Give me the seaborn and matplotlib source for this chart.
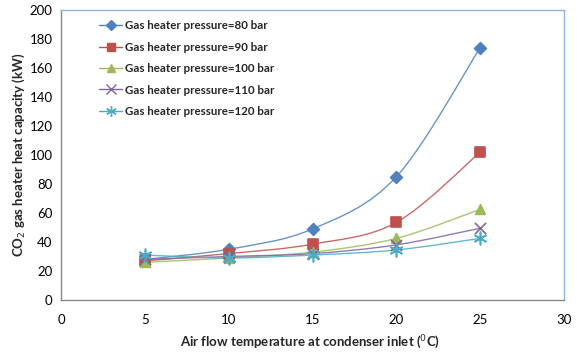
import matplotlib
matplotlib.use("Agg")
import matplotlib.pyplot as plt
import seaborn as sns
import numpy as np
import pandas as pd
from matplotlib.path import Path
from matplotlib.patches import PathPatch
from matplotlib.lines import Line2D

temps = [5, 10, 15, 20, 25]
p80 = [28, 35, 49, 85, 174]
p90 = [27, 32, 38.5, 53.5, 102]
p100 = [26, 29, 33, 42.5, 62.5]
p110 = [28, 30, 32, 38, 49.5]
p120 = [31, 29, 31, 34.5, 42.5]
labels = ["Gas heater pressure=80 bar", "Gas heater pressure=90 bar",
          "Gas heater pressure=100 bar", "Gas heater pressure=110 bar",
          "Gas heater pressure=120 bar"]

colors = ["#4F81BD", "#C0504D", "#9BBB59", "#8064A2", "#4BACC6"]
markers = ["D", "s", "^", "x", (6, 2, 0)]
msizes = [6, 7, 7, 8, 9]


def smooth_path(xs, ys):
    # Excel-style smoothed line: cubic Bezier through the points
    pts = np.column_stack([xs, ys]).astype(float)
    n = len(pts)
    verts = [pts[0]]
    codes = [Path.MOVETO]
    for i in range(n - 1):
        p0 = pts[i - 1] if i > 0 else pts[i]
        p1 = pts[i]
        p2 = pts[i + 1]
        p3 = pts[i + 2] if i + 2 < n else pts[i + 1]
        verts += [p1 + (p2 - p0) / 6, p2 - (p3 - p1) / 6, p2]
        codes += [Path.CURVE4] * 3
    return Path(verts, codes)


sns.set_style("white")
plt.rcParams["font.family"] = ["Lato", "DejaVu Sans"]

fig = plt.figure(figsize=(5.79, 3.52), dpi=100)
ax = fig.add_axes([61 / 579, 52 / 352, 503 / 579, 290 / 352])

series = [p80, p90, p100, p110, p120]
handles = []
for vals, lab, c, m, ms in zip(series, labels, colors, markers, msizes):
    ax.add_patch(PathPatch(smooth_path(temps, vals), fill=False,
                           edgecolor=c, lw=1.0, alpha=0.85, zorder=2))
    df = pd.DataFrame({"t": temps, "v": vals})
    sns.scatterplot(data=df, x="t", y="v", ax=ax, marker=m, s=ms ** 2,
                    color=c, edgecolor=c if m not in ("x",) else None,
                    linewidth=1.2, zorder=3, legend=False)
    handles.append(Line2D([], [], color=c, marker=m, markersize=ms * 0.85,
                          lw=1.0, markeredgewidth=1.0))

ax.set_xlim(0, 30)
ax.set_ylim(0, 200)
ax.set_xticks(range(0, 31, 5))
ax.set_xticks(range(0, 31), minor=True)
ax.set_yticks(range(0, 201, 20))
ax.tick_params(axis="both", which="both", direction="in", colors="#888888",
               labelcolor="black", labelsize=9.5)
ax.tick_params(axis="x", which="major", length=4, pad=10)
ax.tick_params(axis="x", which="minor", length=3)
ax.tick_params(axis="y", length=4, pad=6)

for s in ["left", "bottom"]:
    ax.spines[s].set_color("#888888")
for s in ["top", "right"]:
    ax.spines[s].set_color("#8EB4E3")
for s in ax.spines.values():
    s.set_linewidth(1.0)

ax.set_xlabel("Air flow temperature at condenser inlet ($^{0}$C)",
              fontsize=9.5, fontweight="bold", labelpad=4)
ax.set_ylabel("CO$_2$ gas heater heat capacity (kW)", fontsize=9.5,
              fontweight="bold", labelpad=2)
ax.xaxis.set_label_coords(0.495, -0.115)

leg = ax.legend(handles, labels, loc="upper left", bbox_to_anchor=(0.055, 1.0),
                frameon=False, handlelength=2.0,
                labelspacing=0.9, handletextpad=0.25,
                prop={"weight": "bold", "size": 8.3})

fig.savefig("out.png", dpi=100)
